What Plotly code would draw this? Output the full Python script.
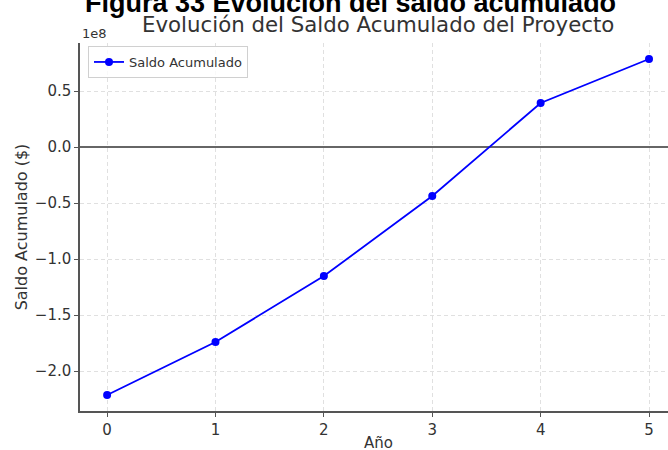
import plotly.graph_objects as go

anios = [0, 1, 2, 3, 4, 5]
saldo = [-221.4e6, -174.1e6, -115.2e6, -43.7e6, 39.3e6, 78.6e6]
ytick_vals = [-2.0e8, -1.5e8, -1.0e8, -0.5e8, 0.0, 0.5e8]
ytick_text = ["\u22122.0", "\u22121.5", "\u22121.0", "\u22120.5", "0.0", "0.5"]
xtick_vals = [0, 1, 2, 3, 4, 5]

FONT = "DejaVu Sans"
W, H = 668, 450
L, R, T, B = 80, 0, 43, 39
PH = H - T - B
PW = W - L - R

fig = go.Figure()
fig.add_trace(go.Scatter(
    x=anios, y=saldo, mode="lines+markers", name="Saldo Acumulado",
    line=dict(color="#0000ff", width=1.8),
    marker=dict(color="#0000ff", size=8),
))

axis_common = dict(
    showgrid=True, gridcolor="#e0e0e0", griddash="4px,3px", gridwidth=1,
    showline=True, linecolor="#555555", linewidth=1.5,
    ticks="outside", ticklen=4, tickcolor="#555555", automargin=False,
    tickfont=dict(size=15, color="#333333", family=FONT),
)

fig.update_layout(
    width=W, height=H,
    margin=dict(l=L, r=R, t=T, b=B),
    paper_bgcolor="white", plot_bgcolor="white",
    font=dict(family=FONT, color="#333333", size=13),
    showlegend=True,
    legend=dict(x=8 / PW, y=1 - 3 / PH, xanchor="left", yanchor="top",
                bgcolor="rgba(255,255,255,0.8)", bordercolor="#d0d0d0", borderwidth=1,
                font=dict(size=13, family=FONT, color="#333333"),
                itemwidth=30, tracegroupgap=0),
    xaxis=dict(range=[-0.25, 5.175], tickvals=xtick_vals, zeroline=False,
               **axis_common),
    yaxis=dict(range=[-2.357e8, 0.929e8], tickvals=ytick_vals, ticktext=ytick_text,
               zeroline=True, zerolinecolor="#666666", zerolinewidth=1.5,
               title=dict(text="Saldo Acumulado ($)", font=dict(size=16, color="#333333", family=FONT), standoff=3),
               **axis_common),
    annotations=[
        dict(text="Evolución del Saldo Acumulado del Proyecto", xref="paper", yref="paper",
             x=(378 - L) / PW, y=1 + (T - 25) / PH, xanchor="center", yanchor="middle",
             showarrow=False, font=dict(size=21.3, family=FONT, color="#333333")),
        dict(text="1e8", xref="paper", yref="paper",
             x=0, y=1 + (T - 33) / PH, xanchor="left", yanchor="middle",
             showarrow=False, font=dict(size=13, family=FONT, color="#333333")),
        dict(text="Año", xref="paper", yref="paper",
             x=(378 - L) / PW, y=-(443 - (H - B)) / PH, xanchor="center", yanchor="middle",
             showarrow=False, font=dict(size=15, family=FONT, color="#333333")),
        dict(text="<b>Figura 33 Evolución del saldo acumulado</b>", xref="paper", yref="paper",
             x=(350 - L) / PW, y=1 + (T - 20) / PH, xanchor="center", yanchor="bottom",
             showarrow=False, font=dict(size=27, family="Liberation Sans", color="#000000")),
    ],
)

fig.write_html("out.html", config={"displayModeBar": False},
               post_script="document.body.style.margin='0';")
